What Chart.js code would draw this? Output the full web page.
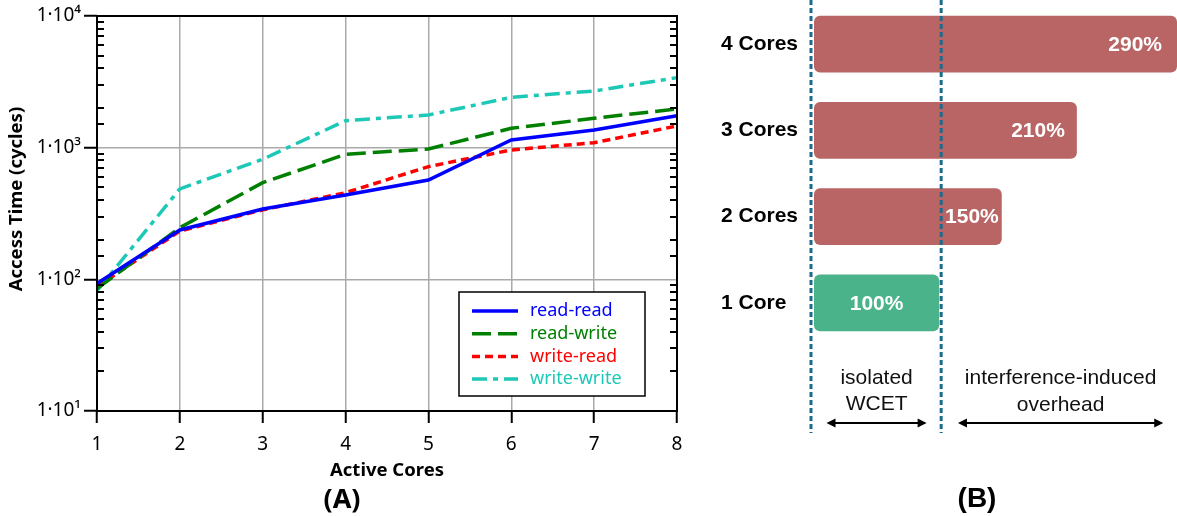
<!DOCTYPE html>
<html lang="en">
<head>
<meta charset="UTF-8">
<title>Access time vs active cores / WCET overhead</title>
<script src="https://cdn.jsdelivr.net/npm/chart.js"></script>
<style>
  body { margin: 0; background: #fff; }
  #page { position: relative; width: 1177px; height: 516px; overflow: hidden; }
  #chartA { position: absolute; left: 0; top: 0; }
  #chartB { position: absolute; left: 690px; top: 0; }
  .tag { position: absolute; top: 482px; width: 100px; text-align: center; line-height: 32px; font-weight: bold; color: #000; }
</style>
</head>
<body>
<div id="page">
  <canvas id="chartA" width="690" height="516"></canvas>
  <canvas id="chartB" width="487" height="516"></canvas>
  <div class="tag" style="left:292px; font-family:'Noto Sans'; font-size:27px;">(A)</div>
  <div class="tag" style="left:927px; font-family:'Liberation Sans'; font-size:28px;">(B)</div>
</div>

<script>
    // ---- panel A: access time per active core count (log scale)
    var cores = ['1', '2', '3', '4', '5', '6', '7', '8'];
    var readRead   = [93, 237, 342, 437, 568, 1144, 1363, 1750];
    var readWrite  = [85, 247, 542, 891, 977, 1403, 1672, 1967];
    var writeRead  = [88, 233, 337, 455, 718, 961, 1091, 1462];
    var writeWrite = [82, 486, 817, 1603, 1771, 2414, 2696, 3404];
    var decades      = [10, 100, 1000, 10000];
    var decadeLabels = ['1·10¹', '1·10²', '1·10³', '1·10⁴'];

    // ---- panel B: WCET relative to isolated run
    var coreLabels  = ['4 Cores', '3 Cores', '2 Cores', '1 Core'];
    var wcetPercent = [290, 210, 150, 100];

    function isDecade(v) {
        return decades.some(function (d) { return Math.abs(d - v) < 1e-6; });
    }

    // frame, inner minor ticks and the boxed legend of panel A
    var frameA = {
        id: 'frameA',
        afterDatasetsDraw: function (chart) {
            var ctx = chart.ctx, ca = chart.chartArea, y = chart.scales.y;
            ctx.save();
            ctx.strokeStyle = '#000';
            ctx.lineWidth = 2;
            y.ticks.forEach(function (t) {
                if (isDecade(t.value)) return;
                var py = Math.round(y.getPixelForValue(t.value));
                ctx.beginPath();
                ctx.moveTo(ca.left, py); ctx.lineTo(ca.left + 7, py);
                ctx.moveTo(ca.right - 7, py); ctx.lineTo(ca.right, py);
                ctx.stroke();
            });
            ctx.strokeRect(ca.left, ca.top, ca.right - ca.left, ca.bottom - ca.top);

            // legend
            var w = 186, h = 104;
            var lx = ca.right - 32 - w, ly = ca.bottom - 15 - h;
            ctx.fillStyle = '#fff';
            ctx.fillRect(lx, ly, w, h);
            ctx.lineWidth = 1.5;
            ctx.strokeRect(lx, ly, w, h);
            ctx.font = '18px "Noto Sans"';
            ctx.textBaseline = 'middle';
            chart.data.datasets.forEach(function (ds, i) {
                var ry = ly + 19 + i * 22.7;
                ctx.beginPath();
                ctx.setLineDash(ds.borderDash || []);
                ctx.strokeStyle = ds.borderColor;
                ctx.lineWidth = 3.5;
                ctx.moveTo(lx + 13, ry); ctx.lineTo(lx + 59, ry);
                ctx.stroke();
                ctx.setLineDash([]);
                ctx.fillStyle = ds.borderColor;
                ctx.fillText(ds.label, lx + 71, ry);
            });
            ctx.restore();
        }
    };

    new Chart(document.getElementById('chartA'), {
        type: 'line',
        data: {
            labels: cores,
            datasets: [
                { label: 'read-read',   data: readRead,   borderColor: '#0000ff', borderDash: [] },
                { label: 'read-write',  data: readWrite,  borderColor: '#008000', borderDash: [19, 7] },
                { label: 'write-read',  data: writeRead,  borderColor: '#ff0000', borderDash: [8, 5] },
                { label: 'write-write', data: writeWrite, borderColor: '#1ec8b6', borderDash: [15, 6, 5, 6] }
            ]
        },
        options: {
            responsive: false,
            animation: false,
            layout: { padding: { top: 16, right: 13, left: 0, bottom: 0 } },
            elements: { point: { radius: 0 }, line: { borderWidth: 3.5, tension: 0 } },
            plugins: { legend: { display: false }, tooltip: { enabled: false } },
            scales: {
                x: {
                    grid: {
                        color: function (c) { return (c.index > 0 && c.index < cores.length - 1) ? '#aaaaaa' : 'rgba(0,0,0,0)'; },
                        lineWidth: 1.5,
                        tickColor: '#000',
                        tickWidth: 2,
                        tickLength: 12
                    },
                    border: { display: false },
                    ticks: { color: '#000', font: { family: 'Noto Sans', size: 19 }, padding: 10, maxRotation: 0 },
                    title: {
                        display: true, text: 'Active Cores', color: '#000',
                        font: { family: 'Noto Sans', weight: 'bold', size: 18.5 },
                        padding: { top: 0, bottom: 34 }
                    },
                    afterFit: function (s) {
                        s.height = 105;
                        s.paddingLeft = 0;
                        s.paddingRight = 0;
                    }
                },
                y: {
                    type: 'logarithmic',
                    min: 10,
                    max: 10000,
                    grid: {
                        color: function (c) {
                            var v = c.tick.value;
                            return (isDecade(v) && v > 10 && v < 10000) ? '#aaaaaa' : 'rgba(0,0,0,0)';
                        },
                        lineWidth: 1.5,
                        tickColor: function (c) { return isDecade(c.tick.value) ? '#000' : 'rgba(0,0,0,0)'; },
                        tickWidth: 2,
                        tickLength: 13
                    },
                    border: { display: false },
                    ticks: {
                        autoSkip: false,
                        color: '#000',
                        font: { family: 'Noto Sans', size: 19 },
                        padding: 3,
                        callback: function (v) {
                            for (var i = 0; i < decades.length; i++) {
                                if (Math.abs(decades[i] - v) < 1e-6) return decadeLabels[i];
                            }
                            return '';
                        }
                    },
                    title: {
                        display: true, text: '      Access Time (cycles)', color: '#000',
                        font: { family: 'Noto Sans', weight: 'bold', size: 18.5 },
                        padding: { top: 6, bottom: 0 }
                    },
                    afterFit: function (s) { s.width = 97; }
                }
            }
        },
        plugins: [frameA]
    });

    // dashed guides, bar values and the notes under panel B
    var notesB = {
        id: 'notesB',
        afterDatasetsDraw: function (chart, args, opts) {
            var ctx = chart.ctx, x = chart.scales.x, ca = chart.chartArea;
            var meta = chart.getDatasetMeta(0);
            ctx.save();

            // value labels inside the bars
            ctx.font = 'bold 21px "Liberation Sans"';
            ctx.fillStyle = '#fff';
            ctx.textBaseline = 'middle';
            meta.data.forEach(function (bar, i) {
                var txt = wcetPercent[i] + '%';
                if (wcetPercent[i] === 100) {
                    ctx.textAlign = 'center';
                    ctx.fillText(txt, (bar.x + bar.base) / 2, bar.y + 1);
                } else {
                    ctx.textAlign = 'right';
                    ctx.fillText(txt, bar.x - opts.insets[i], bar.y + 1);
                }
            });

            // dashed guides
            ctx.strokeStyle = '#1b6b8c';
            ctx.lineWidth = 3;
            ctx.setLineDash([5, 3]);
            [x.getPixelForValue(0) - 3, x.getPixelForValue(100) + 2].forEach(function (px) {
                ctx.beginPath();
                ctx.moveTo(px, 0);
                ctx.lineTo(px, ca.bottom + 87);
                ctx.stroke();
            });
            ctx.setLineDash([]);

            // notes
            ctx.fillStyle = '#111';
            ctx.font = '21px "Liberation Sans"';
            ctx.textAlign = 'center';
            var cx1 = x.getPixelForValue(50), cx2 = x.getPixelForValue(197);
            ctx.fillText('isolated', cx1, ca.bottom + 32);
            ctx.fillText('WCET', cx1, ca.bottom + 58);
            ctx.fillText('interference-induced', cx2, ca.bottom + 32);
            ctx.fillText('overhead', cx2, ca.bottom + 59);

            function arrow(a, b, ay) {
                ctx.strokeStyle = '#000';
                ctx.fillStyle = '#000';
                ctx.lineWidth = 2;
                ctx.beginPath();
                ctx.moveTo(a + 6, ay); ctx.lineTo(b - 6, ay);
                ctx.stroke();
                ctx.beginPath();
                ctx.moveTo(a, ay); ctx.lineTo(a + 9, ay - 4.5); ctx.lineTo(a + 9, ay + 4.5); ctx.closePath();
                ctx.moveTo(b, ay); ctx.lineTo(b - 9, ay - 4.5); ctx.lineTo(b - 9, ay + 4.5); ctx.closePath();
                ctx.fill();
            }
            arrow(x.getPixelForValue(10), x.getPixelForValue(90), ca.bottom + 77);
            arrow(x.getPixelForValue(115), x.getPixelForValue(279), ca.bottom + 77);
            ctx.restore();
        }
    };

    new Chart(document.getElementById('chartB'), {
        type: 'bar',
        data: {
            labels: coreLabels,
            datasets: [{
                data: wcetPercent,
                backgroundColor: function (c) { return coreLabels[c.dataIndex] === '1 Core' ? '#4bb38a' : '#b96565'; },
                borderRadius: 6,
                borderSkipped: false,
                barPercentage: 0.66,
                categoryPercentage: 1
            }]
        },
        options: {
            indexAxis: 'y',
            responsive: false,
            animation: false,
            layout: { padding: { top: 1, right: 0, bottom: 170, left: 31 } },
            plugins: {
                legend: { display: false },
                tooltip: { enabled: false },
                notesB: { insets: [15, 12, 3] }
            },
            scales: {
                x: { display: false, min: 0, max: 290 },
                y: {
                    grid: { display: false },
                    border: { display: false },
                    ticks: {
                        crossAlign: 'far',
                        padding: 15,
                        color: '#000',
                        font: { family: 'Liberation Sans', weight: 'bold', size: 21 }
                    },
                    afterFit: function (s) {
                        s.width = 93;
                        s.paddingTop = 0;
                        s.paddingBottom = 0;
                    }
                }
            }
        },
        plugins: [notesB]
    });
</script>
</body>
</html>
